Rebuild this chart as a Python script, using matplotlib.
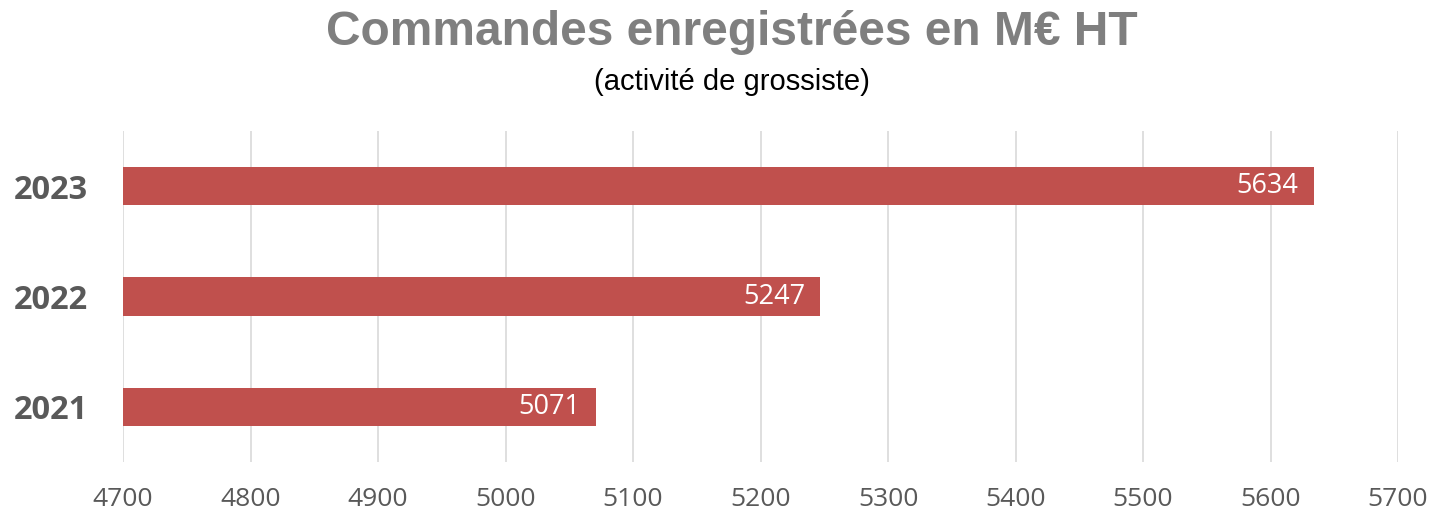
import matplotlib
matplotlib.use('Agg')
import matplotlib.pyplot as plt

# Data
years = ['2021', '2022', '2023']
orders = [5071, 5247, 5634]
x_ticks = [4700, 4800, 4900, 5000, 5100, 5200, 5300, 5400, 5500, 5600, 5700]

bar_color = '#C0504D'
grid_color = '#D9D9D9'

fig = plt.figure(figsize=(14.32, 5.15), dpi=100)
ax = fig.add_axes([123/1432, 1 - 462/515, (1398 - 123)/1432, (462 - 131)/515])

y = range(len(years))
ax.barh(y, [v - 4700 for v in orders], left=4700, height=0.35, color=bar_color, zorder=3)

for i, v in enumerate(orders):
    ax.annotate(str(v), xy=(v, i), xytext=(-11, 0), textcoords='offset points',
                ha='right', va='center', color='white', fontsize=19.5,
                family='Open Sans', zorder=4)

ax.set_xlim(4700, 5700)
ax.set_ylim(-0.5, 2.5)
ax.set_xticks(x_ticks)
ax.set_xticklabels([str(t) for t in x_ticks], family='Open Sans', fontsize=19, color='#595959')
ax.set_yticks(list(y))
ax.set_yticklabels(years, family='Open Sans', fontweight='bold', fontsize=23.5, color='#595959')
ax.tick_params(axis='x', length=0, pad=18)
ax.tick_params(axis='y', length=0, pad=25)

ax.grid(axis='x', color=grid_color, linewidth=1.2, zorder=0)
for s in ax.spines.values():
    s.set_visible(False)

fig.text(0.511, 0.937, 'Commandes enregistrées en M€ HT', ha='center', va='center',
         family='Liberation Sans', fontweight='bold', fontsize=34.5, color='#7F7F7F')
fig.text(0.511, 0.84, '(activité de grossiste)', ha='center', va='center',
         family='Liberation Sans', fontsize=21, color='#000000')

fig.savefig('out.png', dpi=100)
